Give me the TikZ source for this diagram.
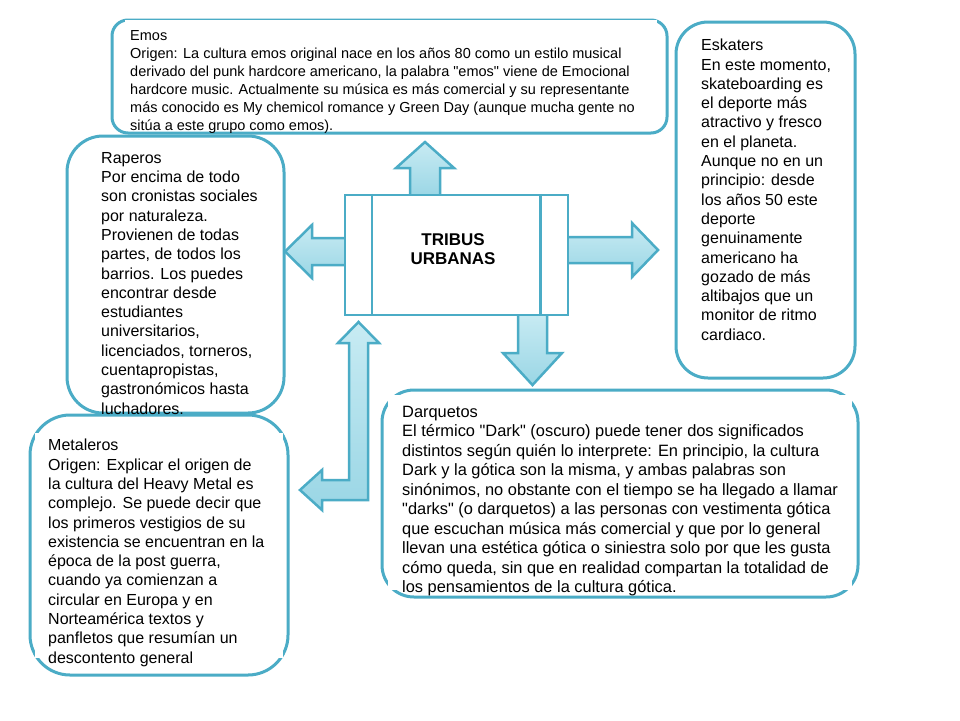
\documentclass[tikz,border=0pt]{standalone}
\usepackage{fontspec}
\setmainfont{Liberation Sans}
\usetikzlibrary{calc}
\definecolor{tribeblue}{HTML}{4BACC6}
\definecolor{droplight}{HTML}{C8EBF3}
\definecolor{dropdark}{HTML}{9AD6E5}
\newcommand{\blurbfont}{\fontsize{16}{19.3}\selectfont}
\newcommand{\emosfont}{\fontsize{14.5}{18}\selectfont}
\newcommand{\qq}{\textquotedbl}

\begin{document}
\begin{tikzpicture}[x=1pt, y=-1pt,
  tribe/.style={draw=tribeblue, line width=3pt},
  textpad/.style={fill=white},
  blurb/.style={anchor=north west, inner sep=0pt, align=left, font=\blurbfont},
  waterarrow/.style={draw=tribeblue, line width=2.5pt, line join=miter,
    top color=droplight, bottom color=dropdark}]
  % page
  \fill[white] (0,0) rectangle (960,720);
  \useasboundingbox (0,0) rectangle (960,720);

  % Rounded frames of the five tribes
  \draw[tribe, rounded corners=16pt] (112,20) rectangle (667,133);
  \draw[tribe, rounded corners=32pt] (676,22) rectangle (855,378);
  \draw[tribe, rounded corners=36pt] (67,136) rectangle (284,413);
  \draw[tribe, rounded corners=40pt] (30,415) rectangle (288,675);
  \draw[tribe, rounded corners=32pt] (382,390) rectangle (858,597);
  % white text areas that nick the frames
  \fill[textpad] (125,20) rectangle (657,112);
  \fill[textpad] (35,433) rectangle (283,658);
  \fill[textpad] (388,395) rectangle (852,590);

  % Arrows out of the centre
  \draw[waterarrow] (410,197) -- (410,168) -- (396,168) -- (425,142)
    -- (454,168) -- (440,168) -- (440,197) -- cycle;
  \draw[waterarrow] (347,238) -- (312,238) -- (312,225) -- (285,251.5)
    -- (312,278) -- (312,265) -- (347,265) -- cycle;
  \draw[waterarrow] (566,237) -- (632,237) -- (632,223) -- (658,250)
    -- (632,277) -- (632,263) -- (566,263) -- cycle;
  \draw[waterarrow] (518,313) -- (518,353) -- (503,353) -- (532.5,385)
    -- (562,353) -- (547,353) -- (547,313) -- cycle;
  % bent arrow (up and left)
  \draw[waterarrow] (358.5,322) -- (379,343) -- (368,343) -- (368,500)
    -- (322,500) -- (322,510) -- (300,490) -- (322,470) -- (322,480)
    -- (349,480) -- (349,343) -- (338,343) -- cycle;

  % Central box
  \node[draw=tribeblue, line width=2.5pt, fill=white, inner sep=0pt,
    minimum width=223pt, minimum height=120pt] (hub) at (456.5,255) {};
  \draw[tribeblue, line width=2.5pt] ($(hub.north west)+(28,0)$) -- ($(hub.south west)+(28,0)$);
  \draw[tribeblue, line width=2.5pt] ($(hub.north east)+(-29,0)$) -- ($(hub.south east)+(-29,0)$);
  \node[align=center, font=\fontsize{17}{18.5}\selectfont\bfseries] (title) at (453,249) {TRIBUS\\URBANAS};

  % Texts
  \node[blurb, font=\emosfont] (emos) at (130,30) {Emos\\
    Origen: La cultura emos original nace en los años 80 como un estilo musical\\
    derivado del punk hardcore americano, la palabra \qq emos\qq{} viene de Emocional\\
    hardcore music. Actualmente su música es más comercial y su representante\\
    más conocido es My chemicol romance y Green Day (aunque mucha gente no\\
    sitúa a este grupo como emos).};
  \node[blurb] (eskaters) at (701,39) {Eskaters\\
    En este momento,\\skateboarding es\\el deporte más\\atractivo y fresco\\
    en el planeta.\\Aunque no en un\\principio: desde\\los años 50 este\\
    deporte\\genuinamente\\americano ha\\gozado de más\\altibajos que un\\
    monitor de ritmo\\cardiaco.};
  \node[blurb] (raperos) at (101,152) {Raperos\\
    Por encima de todo\\son cronistas sociales\\por naturaleza.\\
    Provienen de todas\\partes, de todos los\\barrios. Los puedes\\
    encontrar desde\\estudiantes\\universitarios,\\licenciados, torneros,\\
    cuentapropistas,\\gastronómicos hasta\\luchadores.};
  \node[blurb] (metaleros) at (48,439) {Metaleros\\
    Origen: Explicar el origen de\\la cultura del Heavy Metal es\\
    complejo. Se puede decir que\\los primeros vestigios de su\\
    existencia se encuentran en la\\época de la post guerra,\\
    cuando ya comienzan a\\circular en Europa y en\\Norteamérica textos y\\
    panfletos que resumían un\\descontento general};
  \node[blurb, font=\fontsize{16.4}{19.5}\selectfont] (darquetos) at (402,406) {Darquetos\\
    El térmico \qq Dark\qq{} (oscuro) puede tener dos significados\\
    distintos según quién lo interprete: En principio, la cultura\\
    Dark y la gótica son la misma, y ambas palabras son\\
    sinónimos, no obstante con el tiempo se ha llegado a llamar\\
    \qq darks\qq{} (o darquetos) a las personas con vestimenta gótica\\
    que escuchan música más comercial y que por lo general\\
    llevan una estética gótica o siniestra solo por que les gusta\\
    cómo queda, sin que en realidad compartan la totalidad de\\
    los pensamientos de la cultura gótica.};
\end{tikzpicture}
\end{document}
